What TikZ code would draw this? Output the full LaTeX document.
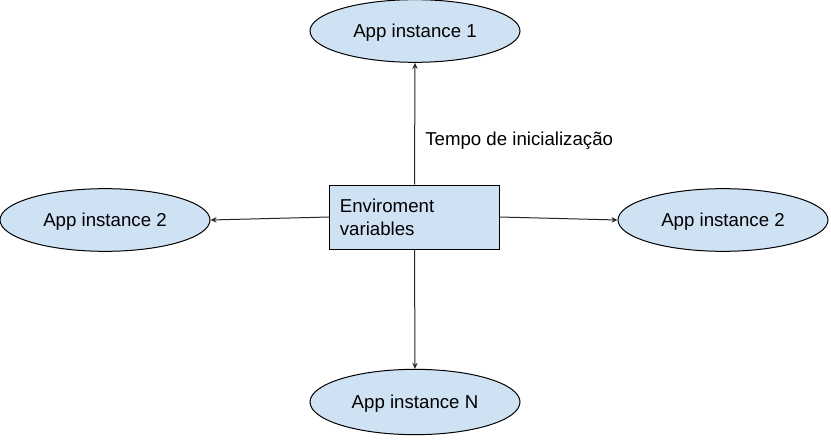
\documentclass[tikz,border=0pt]{standalone}
\usepackage{fontspec}
\setmainfont{Liberation Sans}
\usetikzlibrary{shapes.geometric,arrows.meta}
\definecolor{fillblue}{HTML}{CFE2F3}
\begin{document}
\begin{tikzpicture}[x=0.75pt,y=-0.75pt,
  inst/.style={ellipse,draw=black,line width=0.75pt,fill=fillblue,minimum width=157.5pt,minimum height=47pt,inner sep=0pt,text depth=0pt,font=\fontsize{14}{16}\selectfont},
  envbox/.style={rectangle,draw=black,line width=0.75pt,fill=fillblue,minimum width=126.75pt,minimum height=48pt,text width=112pt,inner xsep=7.5pt,align=left,font=\fontsize{14}{17.25}\selectfont},
  conn/.style={draw=black!85,line width=0.75pt,-{Stealth[length=4.5pt,width=4pt]}},
  lbl/.style={font=\fontsize{14}{16}\selectfont,anchor=west,inner sep=0pt}
]
\useasboundingbox (0,0) rectangle (831,442);
\node[envbox] (env) at (414.5,217) {Enviroment\\variables};
\node[inst] (top) at (415,31) {App instance 1};
\node[inst] (left) at (105,220) {App instance 2};
\node[inst] (right) at (723,220) {App instance 2};
\node[inst,minimum height=49pt] (bot) at (415,402) {App instance N};
\draw[conn] (env.north) -- (top.south);
\draw[conn] (env.west) -- (left.east);
\draw[conn] (env.east) -- (right.west);
\draw[conn] (env.south) -- (bot.north);
\node[lbl] (t) at (425,141) {Tempo de inicialização};
\end{tikzpicture}
\end{document}
